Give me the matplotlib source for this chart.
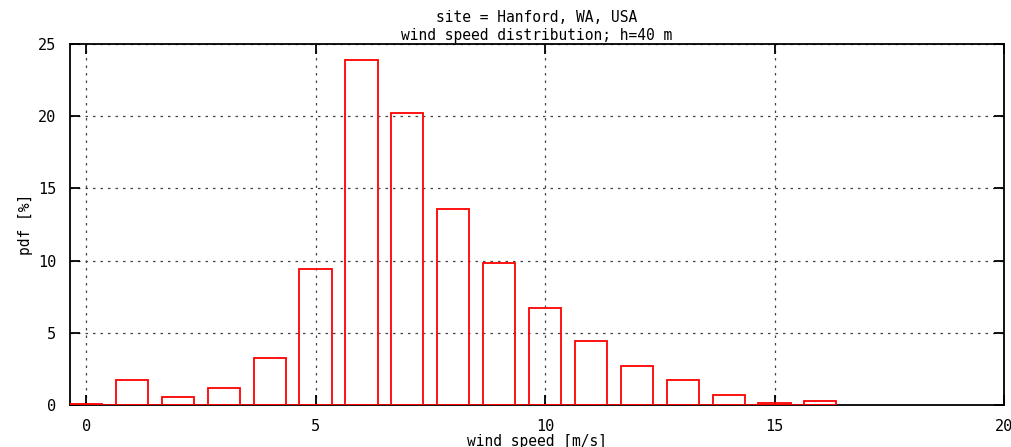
import matplotlib.pyplot as plt

# wind speed bins [m/s] and pdf [%]
speed = [0, 1, 2, 3, 4, 5, 6, 7, 8, 9, 10, 11, 12, 13, 14, 15, 16]
pdf = [0.1, 1.7, 0.55, 1.15, 3.25, 9.4, 23.9, 20.2, 13.6, 9.85, 6.7,
       4.45, 2.7, 1.7, 0.7, 0.15, 0.25]
xticks = [0, 5, 10, 15, 20]
yticks = [0, 5, 10, 15, 20, 25]

plt.rcParams['font.family'] = 'DejaVu Sans Mono'

fig = plt.figure(figsize=(10.11, 4.47), dpi=100)
ax = fig.add_axes([70 / 1011, 42 / 447, 934 / 1011, 361 / 447])

w = 0.7
ax.plot([speed[0] - w / 2, speed[-1] + w / 2], [0, 0], color='red', lw=1.3, zorder=3)
ax.bar(speed, pdf, width=w, fill=False, edgecolor='red', linewidth=1.3, zorder=3)

ax.set_xlim(-0.35, 20)
ax.set_ylim(0, 25)
ax.set_xticks(xticks)
ax.set_yticks(yticks)
ax.grid(True, linestyle=(0, (2, 4)), color='#444444', lw=0.9)
ax.tick_params(direction='in', length=7, width=1.3, top=True, right=True,
               labelsize=11, pad=10)
ax.tick_params(axis='x', pad=10)
for s in ax.spines.values():
    s.set_linewidth(1.3)

ax.set_xlabel('wind speed [m/s]', fontsize=10.5, labelpad=0)
ax.set_ylabel('pdf [%]', fontsize=10.5, labelpad=-6)
ax.yaxis.set_label_coords(-37 / 934, 0.5)
ax.set_title('site = Hanford, WA, USA\nwind speed distribution; h=40 m',
             fontsize=10.5, linespacing=1.25, pad=3)

plt.savefig('out.png', dpi=100)
